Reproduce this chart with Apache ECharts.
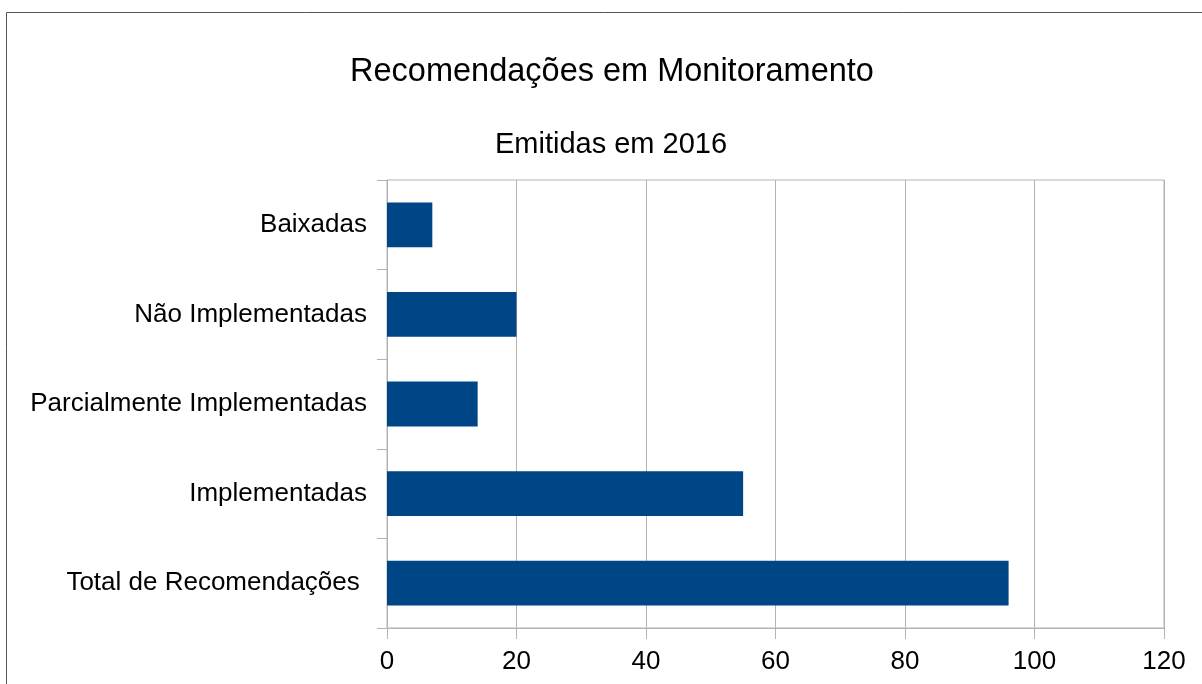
<!DOCTYPE html>
<html>
<head>
<meta charset="utf-8">
<title>Recomendações em Monitoramento</title>
<script src="https://cdn.jsdelivr.net/npm/echarts@6/dist/echarts.min.js"></script>
<style>
html, body { margin: 0; padding: 0; background: #fff; }
#container { width: 1202px; height: 684px; }
</style>
</head>
<body>
<div id="container"></div>
<script type="text/javascript">
// categorias de baixo para cima (eixo de categorias do ECharts começa embaixo)
var categorias = ['Total de Recomendações ', 'Implementadas', 'Parcialmente Implementadas', 'Não Implementadas', 'Baixadas'];
var valores = [96, 55, 14, 20, 7];
var ticksX = [0, 20, 40, 60, 80, 100, 120];

var myChart = echarts.init(document.getElementById('container'));
var fonte = '"Liberation Sans", Arial, sans-serif';

var option = {
	animation: false,
	backgroundColor: '#ffffff',
	graphic: [{
		type: 'rect',
		shape: { x: 6.5, y: 12.5, width: 1300, height: 900 },
		style: { fill: 'none', stroke: '#555555', lineWidth: 1 },
		silent: true
	}],
	title: [{
		text: 'Recomendações em Monitoramento',
		left: 607,
		top: 51,
		textAlign: 'center',
		textStyle: { fontFamily: fonte, fontSize: 32.5, fontWeight: 'normal', color: '#000' }
	}, {
		text: 'Emitidas em 2016',
		left: 606,
		top: 125,
		textAlign: 'center',
		textStyle: { fontFamily: fonte, fontSize: 29, fontWeight: 'normal', color: '#000' }
	}],
	grid: {
		left: 387,
		top: 180,
		width: 777,
		height: 448,
		show: true,
		borderColor: '#b3b3b3',
		borderWidth: 1,
		containLabel: false
	},
	xAxis: {
		type: 'value',
		min: ticksX[0],
		max: ticksX[ticksX.length - 1],
		interval: 20,
		axisLine: { show: true, lineStyle: { color: '#b3b3b3' } },
		axisTick: { show: true, length: 11, lineStyle: { color: '#b3b3b3' } },
		splitLine: { show: true, lineStyle: { color: '#b3b3b3' } },
		axisLabel: { margin: 21, fontFamily: fonte, fontSize: 26, color: '#000' }
	},
	yAxis: {
		type: 'category',
		data: categorias,
		axisLine: { show: true, lineStyle: { color: '#b3b3b3' } },
		axisTick: { show: true, length: 10, inside: false, lineStyle: { color: '#b3b3b3' } },
		splitLine: { show: false },
		axisLabel: { margin: 20, fontFamily: fonte, fontSize: 26, color: '#000' }
	},
	series: [{
		type: 'bar',
		data: valores,
		barCategoryGap: '50%',
		itemStyle: { color: '#004586' }
	}]
};
myChart.setOption(option);
</script>
</body>
</html>
